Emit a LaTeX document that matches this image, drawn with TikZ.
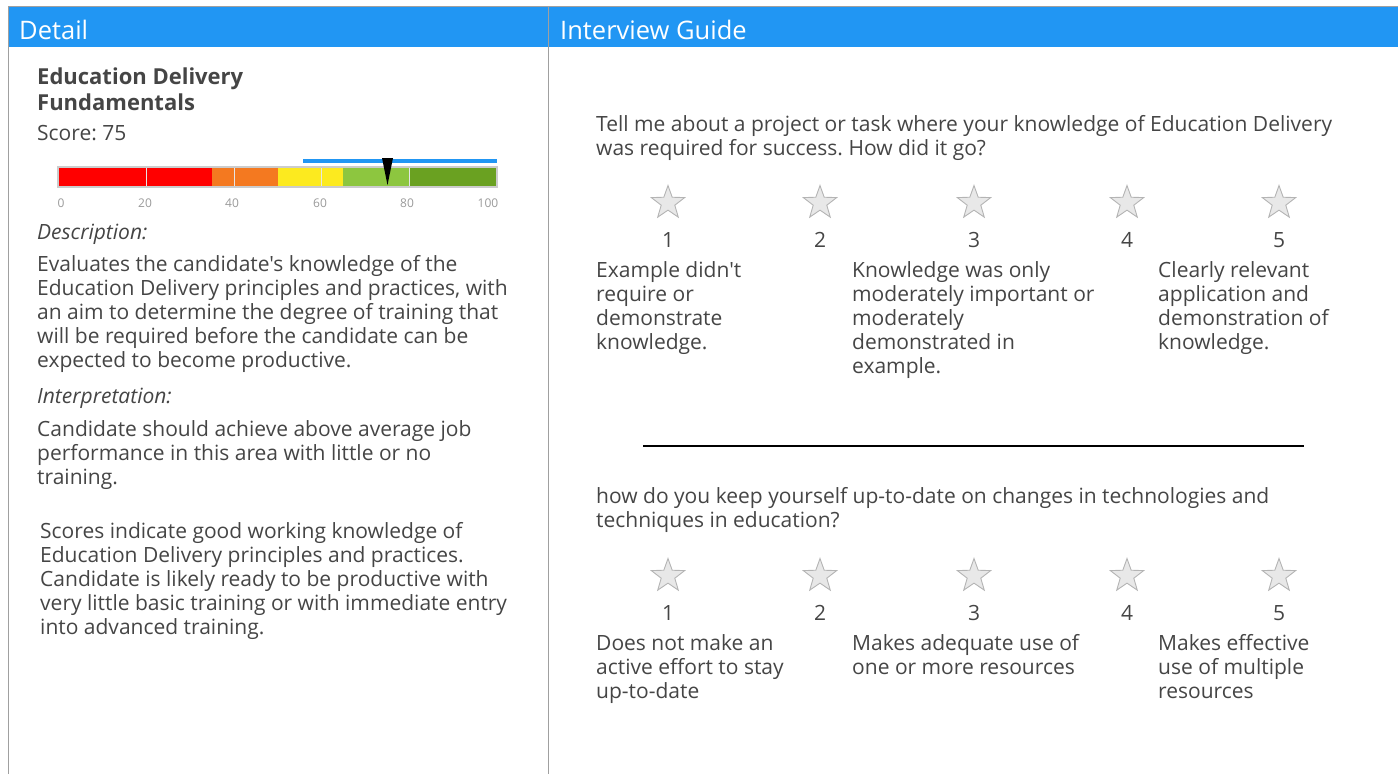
\documentclass[tikz,border=0pt]{standalone}
\usepackage{fontspec}
\setmainfont{Open Sans}[Ligatures=TeXOff]
\usetikzlibrary{shapes.geometric}
\frenchspacing
\definecolor{hdr}{HTML}{2196F3}
\definecolor{txt}{HTML}{454545}
\definecolor{frame}{HTML}{A0A0A0}
\definecolor{cred}{HTML}{FF0000}
\definecolor{corange}{HTML}{F47920}
\definecolor{cyellow}{HTML}{FCEA1F}
\definecolor{clgreen}{HTML}{8DC63F}
\definecolor{cdgreen}{HTML}{6AA121}
\definecolor{starfill}{HTML}{E8E8E8}
\definecolor{starline}{HTML}{B4B4B4}
\definecolor{ticktxt}{HTML}{9A9A9A}
\newcommand\plines[2]{\vtop{\baselineskip=#1pt\lineskiplimit=-10pt #2}}
\tikzset{
  base/.style={anchor=base west, inner sep=0pt, text=txt},
  body/.style={base, font=\fontsize{21}{24}\selectfont},
  hdrtxt/.style={anchor=base west, inner sep=0pt, text=white, font=\fontsize{25.5}{28}\selectfont},
  num/.style={anchor=base, inner sep=0pt, text=txt, font=\fontsize{21}{24}\selectfont},
  tick/.style={anchor=base, inner sep=0pt, text=ticktxt, font=\fontsize{12}{14}\selectfont},
  rstar/.style={star, star points=5, star point ratio=2.45, minimum size=35, inner sep=0pt, draw=starline, fill=starfill, line width=0.9pt},
}
\begin{document}
\begin{tikzpicture}[x=1pt,y=-1pt]
\useasboundingbox (0,0) rectangle (1398,774);
% frame and header
\fill[hdr] (8,7) rectangle (1398,47);
\draw[frame, line width=1.2pt] (8.5,774) -- (8.5,6.5) -- (1398,6.5);
\draw[frame, line width=1.2pt] (548.5,6.5) -- (548.5,774);
\node[hdrtxt] (hdetail) at (19,39) {Detail};
\node[hdrtxt] (hguide) at (560,39) {Interview Guide};
% left panel
\node[base, font=\bfseries\fontsize{22}{26}\selectfont] (title) at (37,84)
  {\plines{26}{\hbox{Education Delivery}\hbox{Fundamentals}}};
\node[body] (score) at (37,140) {Score: 75};
% bar
\draw[hdr, line width=3.5pt] (303,161) -- (497,161);
\fill[cred] (58,167) rectangle (212,187);
\fill[corange] (212,167) rectangle (278,187);
\fill[cyellow] (278,167) rectangle (343,187);
\fill[clgreen] (343,167) rectangle (409,187);
\fill[cdgreen] (409,167) rectangle (497,187);
\foreach \gx in {146,234,321,409} \draw[white!80!gray, line width=1pt] (\gx,167) -- (\gx,187);
\draw[gray!40, line width=1.5pt] (58,167) rectangle (497,187);
\fill[black] (382,158) -- (393,158) -- (387.5,185) -- cycle;
\node[tick] (t0) at (61,207) {0};
\node[tick] (t20) at (145,207) {20};
\node[tick] (t40) at (232,207) {40};
\node[tick] (t60) at (320,207) {60};
\node[tick] (t80) at (407,207) {80};
\node[tick] (t100) at (488,207) {100};
\node[body, font=\itshape\fontsize{21}{24}\selectfont] (deslab) at (37,239) {Description:};
\node[body] (desc) at (37,271) {\plines{24}{%
  \hbox{Evaluates the candidate's knowledge of the}%
  \hbox{Education Delivery principles and practices, with}%
  \hbox{an aim to determine the degree of training that}%
  \hbox{will be required before the candidate can be}%
  \hbox{expected to become productive.}}};
\node[body, font=\itshape\fontsize{21}{24}\selectfont] (intlab) at (37,403) {Interpretation:};
\node[body] (interp) at (37,436) {\plines{24}{%
  \hbox{Candidate should achieve above average job}%
  \hbox{performance in this area with little or no}%
  \hbox{training.}}};
\node[body] (scores) at (40,538) {\plines{24}{%
  \hbox{Scores indicate good working knowledge of}%
  \hbox{Education Delivery principles and practices.}%
  \hbox{Candidate is likely ready to be productive with}%
  \hbox{very little basic training or with immediate entry}%
  \hbox{into advanced training.}}};
% right panel, question 1
\node[body] (q1) at (596,131) {\plines{24}{%
  \hbox{Tell me about a project or task where your knowledge of Education Delivery}%
  \hbox{was required for success. How did it go?}}};
\node[rstar] (s11) at (668,203) {};
\node[rstar] (s12) at (820,203) {};
\node[rstar] (s13) at (974,203) {};
\node[rstar] (s14) at (1127,203) {};
\node[rstar] (s15) at (1279,203) {};
\node[num] (n11) at (668,247) {1};
\node[num] (n12) at (820,247) {2};
\node[num] (n13) at (974,247) {3};
\node[num] (n14) at (1127,247) {4};
\node[num] (n15) at (1279,247) {5};
\node[body] (a11) at (596,277) {\plines{24}{%
  \hbox{Example didn't}\hbox{require or}\hbox{demonstrate}\hbox{knowledge.}}};
\node[body] (a13) at (852,277) {\plines{24}{%
  \hbox{Knowledge was only}\hbox{moderately important or}\hbox{moderately}\hbox{demonstrated in}\hbox{example.}}};
\node[body] (a15) at (1158,277) {\plines{24}{%
  \hbox{Clearly relevant}\hbox{application and}\hbox{demonstration of}\hbox{knowledge.}}};
% divider
\coordinate (dl) at (643,446);
\coordinate (dr) at (1304,446);
\draw[black, line width=2.8pt] (dl) -- (dr);
% question 2
\node[body] (q2) at (596,503) {\plines{24}{%
  \hbox{how do you keep yourself up-to-date on changes in technologies and}%
  \hbox{techniques in education?}}};
\node[rstar] (s21) at (668,576) {};
\node[rstar] (s22) at (820,576) {};
\node[rstar] (s23) at (974,576) {};
\node[rstar] (s24) at (1127,576) {};
\node[rstar] (s25) at (1279,576) {};
\node[num] (n21) at (668,620) {1};
\node[num] (n22) at (820,620) {2};
\node[num] (n23) at (974,620) {3};
\node[num] (n24) at (1127,620) {4};
\node[num] (n25) at (1279,620) {5};
\node[body] (a21) at (596,650) {\plines{24}{%
  \hbox{Does not make an}\hbox{active effort to stay}\hbox{up-to-date}}};
\node[body] (a23) at (852,650) {\plines{24}{%
  \hbox{Makes adequate use of}\hbox{one or more resources}}};
\node[body] (a25) at (1158,650) {\plines{24}{%
  \hbox{Makes effective}\hbox{use of multiple}\hbox{resources}}};
\end{tikzpicture}
\end{document}
